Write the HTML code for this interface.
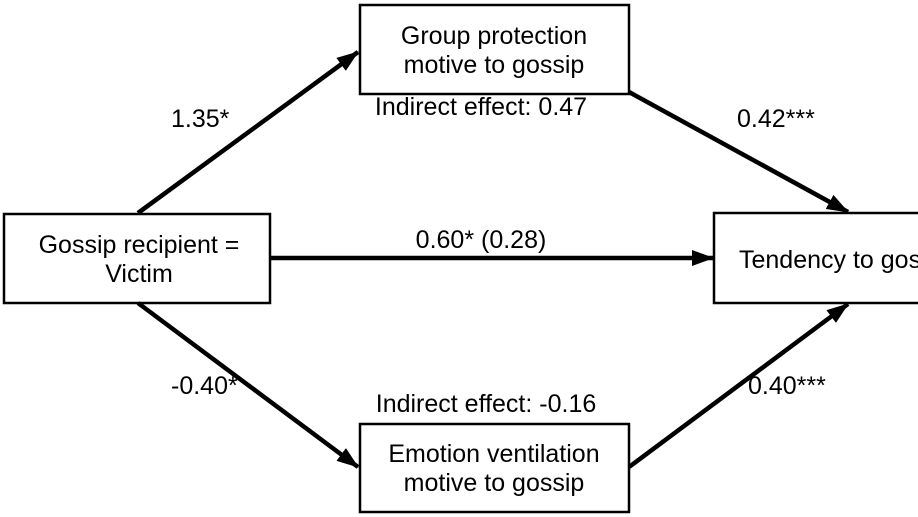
<!DOCTYPE html>
<html><head><meta charset="utf-8"><style>
html,body{margin:0;padding:0;background:#fff;width:918px;height:517px;overflow:hidden}
svg{display:block}
svg text{font-family:"Liberation Sans",Arial,sans-serif;font-size:25px;fill:#000}
</style></head><body>
<svg width="918" height="517" viewBox="0 0 918 517">
<defs>
<marker id="ah2" markerWidth="22" markerHeight="16" refX="21" refY="8" orient="auto" markerUnits="userSpaceOnUse" viewBox="0 0 22 16"><path d="M0,0 L22,8 L0,16 z" fill="#000"/></marker></defs>
<g stroke="#000" stroke-width="2.5" fill="#fff">
<rect x="4" y="214" width="266" height="89"/>
<rect x="360" y="5" width="269" height="89"/>
<rect x="360" y="424" width="269" height="88"/>
<rect x="714" y="213" width="220" height="90"/>
</g>
<g stroke="#000" stroke-width="4.5" fill="none">
<line x1="138" y1="213" x2="358" y2="52" marker-end="url(#ah2)"/>
<line x1="629" y1="92" x2="848" y2="212" marker-end="url(#ah2)"/>
<line x1="270" y1="258" x2="713" y2="258" marker-end="url(#ah2)"/>
<line x1="138" y1="303" x2="358" y2="467" marker-end="url(#ah2)"/>
<line x1="629" y1="467" x2="848" y2="304" marker-end="url(#ah2)"/>
</g>
<g text-anchor="middle">
<text x="139" y="253">Gossip recipient =</text>
<text x="139" y="282">Victim</text>
<text x="494" y="44">Group protection</text>
<text x="494" y="73">motive to gossip</text>
<text x="494" y="462">Emotion ventilation</text>
<text x="494" y="491">motive to gossip</text>
<text x="481" y="248">0.60* (0.28)</text>
<text x="481" y="115">Indirect effect: 0.47</text>
<text x="486" y="412">Indirect effect: -0.16</text>
</g>
<text x="739" y="268">Tendency to gossip</text>
<text x="171" y="127">1.35*</text>
<text x="737" y="127">0.42***</text>
<text x="171" y="394">-0.40*</text>
<text x="748" y="394">0.40***</text>
</svg>
</body></html>
